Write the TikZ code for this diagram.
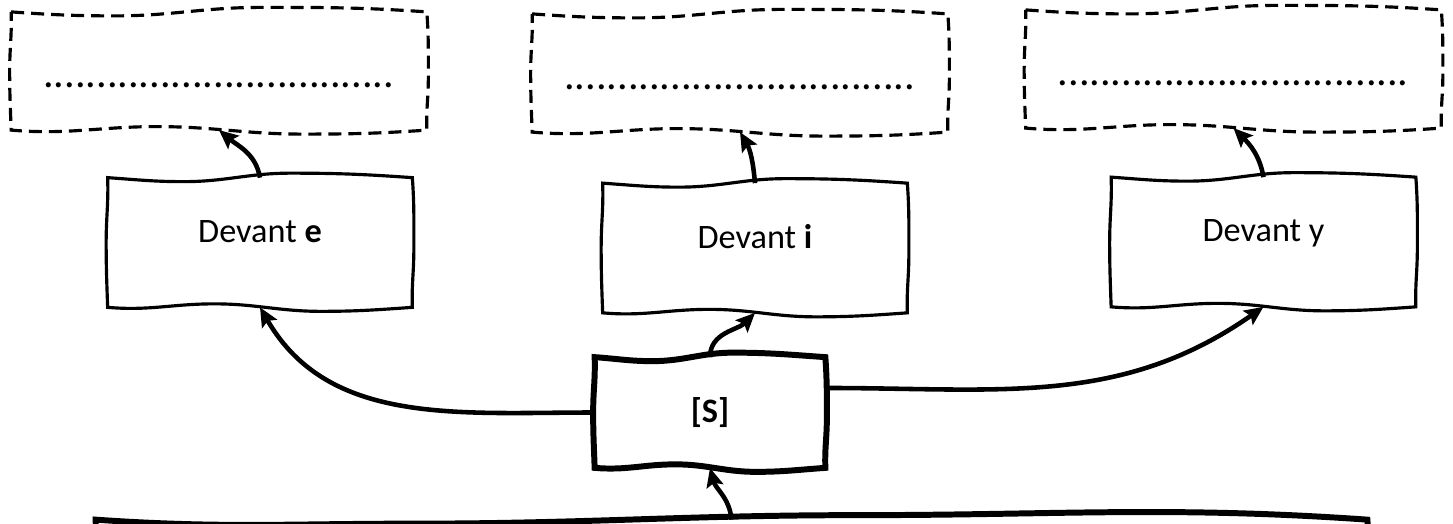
\documentclass[tikz,border=0pt]{standalone}
\usepackage{fontspec}
\setmainfont{Carlito}
\usetikzlibrary{calc,arrows.meta}

% hand drawn outline round a node
\newcommand\sketchbox[2][]{%
	\draw[#1] (#2.north west)
	to[out=-4,in=180] ($(#2.north west)!.25!(#2.north east)+(0,-.08)$)
	to[out=0,in=180] ($(#2.north west)!.6!(#2.north east)+(0,.09)$)
	to[out=0,in=176] (#2.north east)
	to[out=-86,in=90] ($(#2.north east)!.55!(#2.south east)+(.03,0)$)
	to[out=-90,in=92] (#2.south east)
	to[out=184,in=0] ($(#2.south east)!.3!(#2.south west)+(0,-.08)$)
	to[out=180,in=0] ($(#2.south east)!.65!(#2.south west)+(0,.07)$)
	to[out=180,in=-5] (#2.south west)
	to[out=92,in=-90] ($(#2.south west)!.5!(#2.north west)+(-.03,0)$)
	to[out=90,in=-88] (#2.north west) -- cycle;}

\begin{document}
\begin{tikzpicture}[
	answer/.style={minimum width=8.3cm, minimum height=2.35cm, inner sep=0pt, font=\fontsize{24}{24}\selectfont, text height=0.65cm, text depth=0cm},
	case/.style={minimum width=6.08cm, minimum height=2.58cm, inner sep=0pt, font=\fontsize{19.5}{23}\selectfont, text height=0.4cm, text depth=0.4cm},
	sound/.style={minimum width=4.6cm, minimum height=2.2cm, font=\fontsize{19.5}{23}\selectfont\bfseries},
	dashline/.style={dash pattern=on 2.6mm off 1.4mm, line width=1.8pt},
	link/.style={-{Stealth[length=3.8mm,width=3.4mm,inset=0.7mm]}, line width=2.6pt}
]
\useasboundingbox (0,0) rectangle (29.06,-10.48);

\node[answer] (ans e) at (4.38,-1.42) {.................................};
\node[answer] (ans i) at (14.8,-1.46) {.................................};
\node[answer] (ans y) at (24.67,-1.38) {.................................};

\node[case] (dev e) at (5.2,-4.85) {Devant \textbf{e}};
\node[case] (dev i) at (15.1,-4.96) {Devant \textbf{i}};
\node[case] (dev y) at (25.27,-4.84) {Devant y};

\node[sound] (s) at (14.2,-8.25) {[S]};
\node[minimum width=25.42cm, minimum height=2cm] (base) at (14.63,-11.4) {};

\sketchbox[dashline]{ans e}
\sketchbox[dashline]{ans i}
\sketchbox[dashline]{ans y}
\sketchbox[line width=1.8pt]{dev e}
\sketchbox[line width=1.8pt]{dev i}
\sketchbox[line width=1.8pt]{dev y}
\sketchbox[line width=3.4pt]{s}
\sketchbox[line width=3.4pt]{base}

\draw[link] (base.north) to[out=95,in=-75] (s.south);
\draw[link] (s.west) to[out=180,in=-60] (dev e.south);
\draw[link] (s.north) to[out=90,in=-135] (dev i.south);
\draw[link] (s.12) to[out=0,in=-145] (dev y.south);

\draw[link] (dev e.north) to[out=100,in=-40] (ans e.south);
\draw[link] (dev i.north) to[out=95,in=-60] (ans i.south);
\draw[link] (dev y.north) to[out=100,in=-45] (ans y.south);
\end{tikzpicture}
\end{document}
